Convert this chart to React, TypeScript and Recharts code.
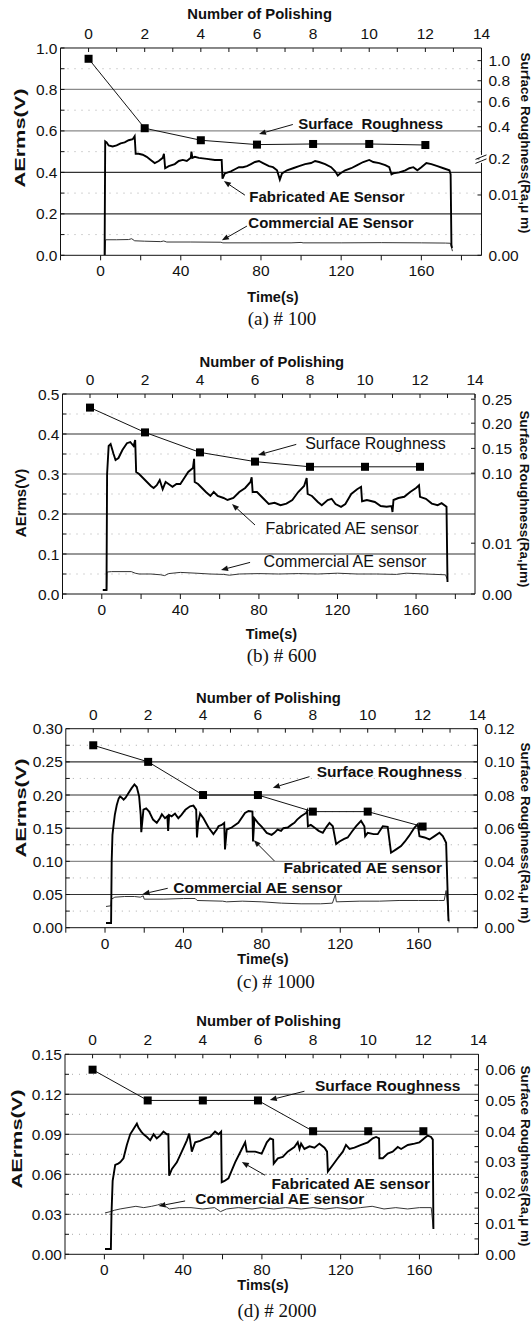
import { ComposedChart, Line, XAxis, YAxis, ReferenceLine, ReferenceDot } from "recharts";

type Pt = [number, number];

const FONT = '"Liberation Sans", Arial, Helvetica, sans-serif';
const SERIF = '"Liberation Serif", "Times New Roman", serif';

// shared axes
const timeTicks = [-20, 0, 20, 40, 60, 80, 100, 120, 140, 160, 180];
const timeLabels = [0, 40, 80, 120, 160];
const polishTicks = [0, 1, 2, 3, 4, 5, 6, 7, 8, 9, 10, 11, 12, 13, 14];
const polishLabels = [0, 2, 4, 6, 8, 10, 12, 14];
const polishing = [0, 2, 4, 6, 8, 10, 12];

// ---------- (a) # 100 ----------
const aFabricated: Pt[] = [
  [2.0, 0.0], [2.3, 0.55], [3, 0.545], [4, 0.53], [6, 0.525], [8, 0.53], [10, 0.54], [12, 0.545],
  [14, 0.555], [16, 0.56], [17, 0.575], [17.5, 0.49], [19, 0.49], [21, 0.485], [23, 0.475], [25, 0.46],
  [27, 0.445], [29, 0.455], [31, 0.47], [31.6, 0.49], [32.2, 0.42], [34, 0.43], [37, 0.44], [39, 0.455],
  [41, 0.46], [43, 0.455], [45, 0.47], [45.3, 0.5], [45.8, 0.47], [47, 0.475], [49, 0.47], [53, 0.465],
  [57, 0.46], [60.4, 0.46], [60.8, 0.37], [62, 0.395], [65, 0.405], [67, 0.415], [69, 0.425], [71, 0.425],
  [73, 0.43], [75, 0.44], [77, 0.45], [79, 0.455], [81, 0.445], [84, 0.43], [86, 0.425], [88, 0.41],
  [89.4, 0.365], [90.5, 0.395], [93, 0.41], [96, 0.42], [99, 0.43], [102, 0.44], [105, 0.445], [107, 0.455],
  [109, 0.45], [112, 0.44], [115, 0.425], [117, 0.405], [118.3, 0.385], [119.5, 0.395], [122, 0.41],
  [125, 0.42], [128, 0.435], [131, 0.45], [134, 0.46], [136, 0.45], [139, 0.445], [142, 0.435], [144, 0.425],
  [145.1, 0.39], [146, 0.395], [149, 0.4], [152, 0.41], [154, 0.42], [156, 0.425], [158, 0.41], [160, 0.425],
  [162.5, 0.445], [165, 0.44], [168, 0.43], [171, 0.42], [174, 0.41], [174.6, 0.39], [175, 0.05], [175.3, 0.035],
];
const aCommercial: Pt[] = [
  [2.2, 0], [2.5, 0.075], [8, 0.075], [14, 0.076], [15.5, 0.08], [17, 0.07], [22, 0.068], [30, 0.066],
  [31.5, 0.069], [33, 0.064], [45, 0.064], [60, 0.063], [61, 0.06], [80, 0.06], [95, 0.06], [100, 0.062],
  [101, 0.06], [120, 0.06], [140, 0.061], [160, 0.06], [172, 0.059], [174.5, 0.058], [175.5, 0.02],
];
// right axis is broken (log-like), so roughness is kept in the drawn axis units
const aRoughness = [0.948, 0.613, 0.555, 0.534, 0.537, 0.537, 0.532];
const aRightTickPos = [0, 0.291, 0.465, 0.62, 0.74, 0.842, 0.939];
const aRightTickLabels = ["0.00", "0.01", "0.2", "0.4", "0.6", "0.8", "1.0"];
const aLeftMajor = [0, 0.2, 0.4, 0.6, 0.8, 1.0];
const aLeftMinor = [0.1, 0.3, 0.5, 0.7, 0.9];

// ---------- (b) # 600 ----------
const bFabricated: Pt[] = [
  [0.5, 0.01], [2.4, 0.01], [2.7, 0.3], [3.5, 0.37], [4.5, 0.375], [6, 0.35], [7, 0.335], [8.5, 0.34],
  [10.5, 0.36], [12.8, 0.377], [14.5, 0.38], [16.2, 0.37], [17, 0.385], [17.5, 0.305], [19, 0.3], [21, 0.29],
  [23, 0.28], [25, 0.27], [26.4, 0.265], [28, 0.272], [29.5, 0.285], [31, 0.262], [32.5, 0.28], [34, 0.275],
  [36, 0.268], [38, 0.275], [40, 0.275], [42, 0.29], [44, 0.305], [46.4, 0.315], [47, 0.338], [47.3, 0.28],
  [49, 0.275], [51, 0.265], [53, 0.255], [55.3, 0.245], [57, 0.255], [59, 0.245], [62, 0.24], [64, 0.235],
  [67, 0.24], [70, 0.255], [73, 0.265], [75.7, 0.28], [76.3, 0.292], [76.8, 0.255], [79, 0.255], [82, 0.24],
  [85, 0.225], [88, 0.228], [91, 0.222], [94, 0.226], [97, 0.235], [100, 0.255], [103, 0.27], [104.3, 0.29],
  [104.8, 0.25], [107, 0.245], [110, 0.23], [112, 0.222], [115, 0.235], [117, 0.238], [119, 0.225],
  [121.8, 0.218], [124, 0.225], [127, 0.25], [130, 0.262], [132, 0.268], [132.5, 0.232], [135, 0.235],
  [139, 0.23], [142, 0.22], [145, 0.218], [147.5, 0.22], [148, 0.205], [148.5, 0.235], [151, 0.24],
  [154, 0.243], [157, 0.255], [160, 0.265], [161.5, 0.272], [162, 0.243], [165, 0.238], [168, 0.226],
  [171, 0.222], [173, 0.227], [175.5, 0.218], [176, 0.03],
];
const bCommercial: Pt[] = [
  [2.5, 0.01], [2.7, 0.055], [5, 0.056], [15, 0.056], [17, 0.052], [19, 0.05], [25, 0.05], [30, 0.048],
  [32, 0.046], [34, 0.051], [40, 0.054], [48, 0.052], [55, 0.05], [62, 0.049], [65, 0.047], [70, 0.05],
  [80, 0.051], [90, 0.05], [100, 0.051], [110, 0.05], [120, 0.052], [130, 0.05], [140, 0.05], [150, 0.049],
  [155, 0.052], [165, 0.05], [175, 0.048], [176, 0.035],
];
const bRoughness = [0.466, 0.404, 0.354, 0.331, 0.318, 0.318, 0.318];
const bRightTickPos = [0, 0.127, 0.302, 0.364, 0.427, 0.487];
const bRightTickLabels = ["0.00", "0.01", "0.10", "0.15", "0.20", "0.25"];
const bLeftMajor = [0, 0.1, 0.2, 0.3, 0.4, 0.5];
const bLeftMinor = [0.05, 0.15, 0.25, 0.35, 0.45];

// ---------- (c) # 1000 ----------
const cFabricated: Pt[] = [
  [0.5, 0.007], [3.1, 0.007], [3.4, 0.1], [3.8, 0.14], [4.3, 0.153], [5, 0.17], [6, 0.185], [7, 0.195],
  [7.7, 0.198], [8.5, 0.196], [9.5, 0.193], [10.5, 0.196], [12, 0.203], [13.5, 0.21], [15, 0.216],
  [16.2, 0.212], [17.4, 0.198], [18.2, 0.17], [18.5, 0.144], [19.6, 0.178], [21, 0.18], [22.5, 0.175],
  [24.5, 0.163], [26.4, 0.158], [28, 0.165], [29, 0.171], [30.6, 0.165], [31.8, 0.168], [32.2, 0.146],
  [32.7, 0.17], [34, 0.168], [35.7, 0.172], [37.4, 0.165], [39, 0.17], [41, 0.178], [43.4, 0.183],
  [45.1, 0.184], [46.5, 0.178], [46.9, 0.136], [47.5, 0.158], [48.5, 0.172], [50.2, 0.165], [52.8, 0.151],
  [55.3, 0.141], [57, 0.148], [57.9, 0.153], [59.5, 0.155], [60.8, 0.158], [61.2, 0.118], [62.1, 0.148],
  [64.6, 0.151], [68, 0.158], [71.4, 0.173], [73.2, 0.176], [75.2, 0.175], [75.5, 0.13], [76.2, 0.165],
  [78, 0.158], [80, 0.152], [82.5, 0.143], [85, 0.14], [86.4, 0.143], [88, 0.148], [89.8, 0.146], [91, 0.15],
  [93.2, 0.151], [95, 0.155], [96.6, 0.158], [98, 0.163], [100, 0.168], [102.6, 0.173], [103.1, 0.176],
  [103.5, 0.153], [105, 0.155], [106.8, 0.151], [109, 0.146], [111.1, 0.143], [113, 0.152], [114.5, 0.158],
  [116.2, 0.153], [117.9, 0.126], [119.6, 0.13], [122, 0.134], [123.8, 0.136], [126, 0.145], [128.1, 0.153],
  [130.6, 0.161], [132.3, 0.153], [132.7, 0.138], [134, 0.143], [137, 0.141], [139.1, 0.141], [141.7, 0.153],
  [144.2, 0.152], [145.9, 0.113], [148.5, 0.118], [151, 0.123], [153, 0.13], [155, 0.138], [157.9, 0.151],
  [159.5, 0.156], [160.4, 0.138], [163, 0.136], [165.5, 0.133], [168.1, 0.138], [170.6, 0.143],
  [172.3, 0.138], [174, 0.128], [174.8, 0.05], [175.2, 0.01],
];
const cCommercial: Pt[] = [
  [0.5, 0.032], [3.0, 0.033], [3.3, 0.043], [5, 0.046], [10, 0.047], [15, 0.047], [18, 0.046], [19.5, 0.048],
  [20, 0.043], [30, 0.043], [40, 0.044], [46, 0.044], [47, 0.041], [60, 0.04], [62, 0.039], [70, 0.04],
  [80, 0.039], [90, 0.037], [100, 0.036], [110, 0.036], [116, 0.037], [117.5, 0.05], [118, 0.039], [130, 0.04],
  [140, 0.04], [150, 0.041], [160, 0.041], [170, 0.041], [173, 0.041], [174, 0.056], [174.5, 0.04],
  [175, 0.02], [175.5, 0.008],
];
const cRoughness = [0.11, 0.1, 0.08, 0.08, 0.07, 0.07, 0.061];
const cRightMajor = [0, 0.02, 0.04, 0.06, 0.08, 0.1, 0.12];
const cRightMinor = [0.01, 0.03, 0.05, 0.07, 0.09, 0.11];
const cLeftMajor = [0, 0.05, 0.1, 0.15, 0.2, 0.25, 0.3];
const cLeftMinor = [0.025, 0.075, 0.125, 0.175, 0.225, 0.275];

// ---------- (d) # 2000 ----------
const dFabricated: Pt[] = [
  [0.3, 0.004], [3.3, 0.004], [3.6, 0.03], [4.2, 0.055], [5.5, 0.067], [7, 0.068], [8, 0.069], [9.7, 0.072],
  [11.4, 0.082], [13.1, 0.09], [14.8, 0.094], [16.5, 0.098], [17.3, 0.095], [18.7, 0.092], [19.9, 0.09],
  [21.6, 0.088], [23.3, 0.0855], [25, 0.09], [26.6, 0.087], [28.3, 0.089], [30, 0.092], [31.7, 0.09],
  [32.5, 0.09], [32.9, 0.059], [34.3, 0.064], [36.8, 0.069], [39.3, 0.077], [41.9, 0.0855], [43.1, 0.0905],
  [44.4, 0.077], [46.1, 0.084], [48.6, 0.085], [51.2, 0.087], [53.7, 0.088], [56.2, 0.092], [58, 0.09],
  [59.3, 0.092], [59.6, 0.054], [61, 0.055], [63, 0.057], [66.4, 0.069], [69.8, 0.079], [71.5, 0.084],
  [72.3, 0.077], [74, 0.077], [76.6, 0.077], [79.9, 0.0755], [82.5, 0.084], [84.2, 0.087], [85.7, 0.086],
  [86, 0.068], [88.1, 0.072], [90.6, 0.073], [93.1, 0.077], [96.5, 0.0805], [98.2, 0.084], [99.1, 0.079],
  [99.9, 0.083], [101.6, 0.079], [104.2, 0.081], [106.7, 0.08], [109.2, 0.083], [111.8, 0.08], [113.1, 0.077],
  [113.5, 0.062], [116, 0.067], [118.5, 0.072], [121.1, 0.077], [122.7, 0.082], [124.5, 0.079], [127, 0.08],
  [130.4, 0.082], [133.8, 0.084], [136.3, 0.087], [138, 0.088], [139.5, 0.087], [139.7, 0.072], [141.4, 0.072],
  [143.9, 0.0755], [146.4, 0.077], [149, 0.0805], [150.7, 0.079], [154.1, 0.082], [157.5, 0.083], [160, 0.084],
  [162.5, 0.087], [164.2, 0.089], [165.9, 0.088], [166.8, 0.086], [167.1, 0.019],
];
const dCommercial: Pt[] = [
  [0.3, 0.031], [3, 0.032], [5, 0.033], [8, 0.034], [12, 0.035], [16, 0.036], [20, 0.035], [24, 0.036],
  [27, 0.037], [29, 0.038], [31, 0.036], [33, 0.034], [38, 0.035], [44, 0.035], [50, 0.034], [56, 0.035],
  [59, 0.032], [62, 0.034], [68, 0.035], [75, 0.034], [80, 0.035], [86, 0.034], [92, 0.035], [100, 0.034],
  [106, 0.035], [112, 0.034], [118, 0.035], [124, 0.034], [130, 0.035], [136, 0.036], [142, 0.034],
  [148, 0.035], [154, 0.034], [160, 0.035], [166, 0.035], [167, 0.02],
];
const dRoughness = [0.06, 0.05, 0.05, 0.05, 0.04, 0.04, 0.04];
const dRightMajor = [0, 0.01, 0.02, 0.03, 0.04, 0.05, 0.06];
const dRightMinor = [0.005, 0.015, 0.025, 0.035, 0.045, 0.055];
const dLeftMajor = [0, 0.03, 0.06, 0.09, 0.12, 0.15];
const dLeftMinor = [0.015, 0.045, 0.075, 0.105, 0.135];

interface Note { text: string; t: number; v: number }
interface Arrow { t1: number; v1: number; t2: number; v2: number }
interface TextItem { text: string; x: number; y: number; size: number; bold?: boolean; rotate?: number; stretch?: number; serif?: boolean }

interface PanelCfg {
  top: number;
  plot: { l: number; r: number; t: number; b: number };
  yMax: number;
  yDec: number;
  leftMajor: number[];
  leftMinor: number[];
  gridDark: number[];
  gridGray: number[];
  gridDash: number[];
  fab: Pt[];
  com: Pt[];
  rough: number[];
  rightDomain: [number, number];
  rightTicks: number[];
  rightLabel: (v: number) => string;
  rightBreak?: number;
  notes: Note[];
  arrows: Arrow[];
  noteBold: boolean;
  noteSize: number;
}

const near = (list: number[], v: number) => list.some((m) => Math.abs(m - v) < 1e-9);

const panels: PanelCfg[] = [
  {
    top: 0,
    plot: { l: 60.5, r: 481.5, t: 48, b: 255.3 },
    yMax: 1, yDec: 1, leftMajor: aLeftMajor, leftMinor: aLeftMinor,
    gridDark: [0.2, 0.4], gridGray: [0.6, 0.8], gridDash: [],
    fab: aFabricated, com: aCommercial, rough: aRoughness,
    rightDomain: [0, 1], rightTicks: aRightTickPos,
    rightLabel: (v) => aRightTickLabels[aRightTickPos.findIndex((p) => Math.abs(p - v) < 1e-9)] ?? "",
    rightBreak: 0.465,
    notes: [
      { text: "Surface\u00a0\u00a0Roughness", t: 134.7, v: 0.636 },
      { text: "Fabricated AE Sensor", t: 112.9, v: 0.286 },
      { text: "Commercial AE Sensor", t: 114.9, v: 0.156 },
    ],
    arrows: [
      { t1: 95.9, v1: 0.631, t2: 79, v2: 0.585 },
      { t1: 72, v1: 0.29, t2: 61.5, v2: 0.358 },
      { t1: 73, v1: 0.141, t2: 60.5, v2: 0.072 },
    ],
    noteBold: true, noteSize: 15,
  },
  {
    top: 340,
    plot: { l: 62.5, r: 475, t: 394, b: 594 },
    yMax: 0.5, yDec: 1, leftMajor: bLeftMajor, leftMinor: bLeftMinor,
    gridDark: [0.1, 0.2, 0.4], gridGray: [0.3], gridDash: [],
    fab: bFabricated, com: bCommercial, rough: bRoughness,
    rightDomain: [0, 0.5], rightTicks: bRightTickPos,
    rightLabel: (v) => bRightTickLabels[bRightTickPos.findIndex((p) => Math.abs(p - v) < 1e-9)] ?? "",
    rightBreak: 0.2525,
    notes: [
      { text: "Surface Roughness", t: 139.3, v: 0.3775 },
      { text: "Fabricated AE sensor", t: 122.3, v: 0.164 },
      { text: "Commercial AE sensor", t: 123.8, v: 0.081 },
    ],
    arrows: [
      { t1: 99, v1: 0.374, t2: 79.6, v2: 0.3475 },
      { t1: 78, v1: 0.1725, t2: 66.3, v2: 0.225 },
      { t1: 75.5, v1: 0.079, t2: 60.7, v2: 0.06 },
    ],
    noteBold: false, noteSize: 16,
  },
  {
    top: 670,
    plot: { l: 65.8, r: 477.5, t: 728.7, b: 927.7 },
    yMax: 0.3, yDec: 2, leftMajor: cLeftMajor, leftMinor: cLeftMinor,
    gridDark: [0.05, 0.15, 0.2, 0.25], gridGray: [0.1], gridDash: [],
    fab: cFabricated, com: cCommercial, rough: cRoughness,
    rightDomain: [0, 0.12], rightTicks: [...cRightMajor, ...cRightMinor].sort((a, b) => a - b),
    rightLabel: (v) => (near(cRightMajor, v) ? v.toFixed(2) : ""),
    notes: [
      { text: "Surface Roughness", t: 145.1, v: 0.235 },
      { text: "Fabricated AE sensor", t: 131.5, v: 0.0905 },
      { text: "Commercial AE sensor", t: 77.9, v: 0.0603 },
    ],
    arrows: [
      { t1: 104.3, v1: 0.2277, t2: 85.6, v2: 0.211 },
      { t1: 86.4, v1: 0.1006, t2: 75.9, v2: 0.132 },
      { t1: 32, v1: 0.0594, t2: 19.2, v2: 0.0508 },
    ],
    noteBold: true, noteSize: 15.5,
  },
  {
    top: 1000,
    plot: { l: 65, r: 478.5, t: 1054.3, b: 1254.3 },
    yMax: 0.15, yDec: 2, leftMajor: dLeftMajor, leftMinor: dLeftMinor,
    gridDark: [0.12], gridGray: [0.09], gridDash: [0.03, 0.06],
    fab: dFabricated, com: dCommercial, rough: dRoughness,
    rightDomain: [0, 0.065], rightTicks: [...dRightMajor, ...dRightMinor].sort((a, b) => a - b),
    rightLabel: (v) => (near(dRightMajor, v) ? v.toFixed(2) : ""),
    notes: [
      { text: "Surface Roughness", t: 143.9, v: 0.1268 },
      { text: "Fabricated AE sensor", t: 125.1, v: 0.053 },
      { text: "Commercial AE sensor", t: 89.1, v: 0.0417 },
    ],
    arrows: [
      { t1: 101.6, v1: 0.1223, t2: 84, v2: 0.1157 },
      { t1: 81.6, v1: 0.0593, t2: 69.8, v2: 0.0692 },
      { t1: 41, v1: 0.04, t2: 27.5, v2: 0.0362 },
    ],
    noteBold: true, noteSize: 15.5,
  },
];

const texts: TextItem[] = [
  { text: "Number of Polishing", x: 259.6, y: 14, size: 14.8, bold: true },
  { text: "AErms(V)", x: 18.7, y: 137.5, size: 15, bold: true, rotate: -90, stretch: 1.45 },
  { text: "Surface Roughness(Ra,\u03bc m)", x: 525, y: 142.5, size: 13.5, bold: true, rotate: 90 },
  { text: "Time(s)", x: 273, y: 297.3, size: 14.5, bold: true },
  { text: "(a) # 100", x: 282, y: 318.3, size: 19, serif: true },

  { text: "Number of Polishing", x: 271.8, y: 361.7, size: 14.8, bold: true },
  { text: "AErms(V)", x: 19.7, y: 502.5, size: 15, bold: true, rotate: -90 },
  { text: "Surface Roughness(Ra,\u03bcm)", x: 524, y: 499, size: 13.5, bold: true, rotate: 90 },
  { text: "Time(s)", x: 271.4, y: 634, size: 14.5, bold: true },
  { text: "(b) # 600", x: 281.6, y: 655, size: 19, serif: true },

  { text: "Number of Polishing", x: 268.4, y: 698.3, size: 14.8, bold: true },
  { text: "AErms(V)", x: 20, y: 807.5, size: 15, bold: true, rotate: -90, stretch: 1.45 },
  { text: "Surface Roughness(Ra,\u03bc m)", x: 525, y: 833, size: 13.5, bold: true, rotate: 90 },
  { text: "Time(s)", x: 263, y: 959, size: 14.5, bold: true },
  { text: "(c) # 1000", x: 275.7, y: 981, size: 19, serif: true },

  { text: "Number of Polishing", x: 268.6, y: 1020.7, size: 14.8, bold: true },
  { text: "AErms(V)", x: 16, y: 1139, size: 15, bold: true, rotate: -90, stretch: 1.45 },
  { text: "Surface Roughness(Ra,\u03bc m)", x: 525, y: 1156, size: 13.5, bold: true, rotate: 90 },
  { text: "Tims(s)", x: 263, y: 1285, size: 14.5, bold: true },
  { text: "(d) # 2000", x: 277, y: 1310, size: 19, serif: true },
];

const tickStyle = { fontSize: 15.5, fill: "#111", fontFamily: FONT };

function ArrowShape(props: any) {
  const { x1, y1, x2, y2 } = props;
  const ang = Math.atan2(y2 - y1, x2 - x1);
  const L = 7;
  const W = 2.8;
  const bx = x2 - L * Math.cos(ang);
  const by = y2 - L * Math.sin(ang);
  const pts = `${x2},${y2} ${bx - W * Math.sin(ang)},${by + W * Math.cos(ang)} ${bx + W * Math.sin(ang)},${by - W * Math.cos(ang)}`;
  return (
    <g>
      <line x1={x1} y1={y1} x2={bx} y2={by} stroke="#111" strokeWidth={1} />
      <polygon points={pts} fill="#111" />
    </g>
  );
}

function Panel({ cfg }: { cfg: PanelCfg }) {
  const leftW = 48;
  const rightW = 52;
  const topH = 24;
  const bottomH = 30;
  const { plot, top } = cfg;
  const height = plot.b - top + bottomH;
  const margin = { left: plot.l - leftW, right: 532 - plot.r - rightW, top: plot.t - top - topH, bottom: 0 };

  const fabData = cfg.fab.map(([t, v]) => ({ t, v }));
  const comData = cfg.com.map(([t, v]) => ({ t, v }));
  const roughData = polishing.map((p, i) => ({ p, r: cfg.rough[i] }));
  const leftTicks = [...cfg.leftMajor, ...cfg.leftMinor].sort((a, b) => a - b);

  const rightTick = (props: any) => {
    const { x, y, payload } = props;
    const label = cfg.rightLabel(payload.value);
    const axisX = x - 7;
    const isBreak = cfg.rightBreak !== undefined && Math.abs(payload.value - cfg.rightBreak) < 1e-9;
    return (
      <g>
        {isBreak && (
          <g>
            <rect x={axisX - 2} y={y - 4} width={4} height={8} fill="#fff" />
            <line x1={axisX - 6} y1={y + 0.5} x2={axisX + 5} y2={y - 4} stroke="#111" strokeWidth={1} />
            <line x1={axisX - 6} y1={y + 4.5} x2={axisX + 5} y2={y} stroke="#111" strokeWidth={1} />
          </g>
        )}
        <text x={x} y={y} dominantBaseline="central" textAnchor="start" fontSize={15.5} fill="#111" fontFamily={FONT}>
          {label}
        </text>
      </g>
    );
  };

  const squareDot = (props: any) => (
    <rect key={`sq-${props.index}`} x={props.cx - 4} y={props.cy - 4} width={8} height={8} fill="#000" />
  );

  return (
    <div style={{ position: "absolute", left: 0, top, width: 532, height }}>
      <ComposedChart width={532} height={height} margin={margin}>
        <XAxis
          xAxisId="bottom"
          type="number"
          dataKey="t"
          domain={[-20, 190]}
          allowDataOverflow
          ticks={timeTicks}
          interval={0}
          tickFormatter={(v) => (near(timeLabels, v) ? String(v) : "")}
          height={bottomH}
          tickSize={5}
          tickMargin={5}
          tick={tickStyle}
          stroke="#111"
        />
        <XAxis
          xAxisId="top"
          orientation="top"
          type="number"
          dataKey="p"
          domain={[-1, 14]}
          allowDataOverflow
          ticks={polishTicks}
          interval={0}
          tickFormatter={(v) => (near(polishLabels, v) ? String(v) : "")}
          height={topH}
          tickSize={-4}
          tickMargin={13}
          tick={tickStyle}
          stroke="#111"
        />
        <YAxis
          yAxisId="left"
          type="number"
          domain={[0, cfg.yMax]}
          allowDataOverflow
          ticks={leftTicks}
          interval={0}
          tickFormatter={(v) => (near(cfg.leftMajor, v) ? v.toFixed(cfg.yDec) : "")}
          width={leftW}
          tickSize={-4}
          tickMargin={7}
          tick={tickStyle}
          stroke="#111"
        />
        <YAxis
          yAxisId="right"
          orientation="right"
          type="number"
          domain={cfg.rightDomain}
          allowDataOverflow
          ticks={cfg.rightTicks}
          interval={0}
          tickFormatter={(v) => cfg.rightLabel(v)}
          width={rightW}
          tickSize={-4}
          tickMargin={11}
          tick={rightTick}
          stroke="#111"
        />

        {cfg.leftMinor.map((g) => (
          <ReferenceLine key={`dot-${g}`} xAxisId="bottom" yAxisId="left" y={g} stroke="#aaa" strokeDasharray="1 6" />
        ))}
        {cfg.gridDash.map((g) => (
          <ReferenceLine key={`dash-${g}`} xAxisId="bottom" yAxisId="left" y={g} stroke="#777" strokeDasharray="2 2" />
        ))}
        {cfg.gridGray.map((g) => (
          <ReferenceLine key={`gray-${g}`} xAxisId="bottom" yAxisId="left" y={g} stroke="#8a8a8a" strokeWidth={1.2} />
        ))}
        {cfg.gridDark.map((g) => (
          <ReferenceLine key={`dark-${g}`} xAxisId="bottom" yAxisId="left" y={g} stroke="#333" strokeWidth={1.1} />
        ))}

        <Line
          xAxisId="bottom"
          yAxisId="left"
          data={comData}
          dataKey="v"
          type="linear"
          stroke="#333"
          strokeWidth={1}
          dot={false}
          activeDot={false}
          isAnimationActive={false}
        />
        <Line
          xAxisId="bottom"
          yAxisId="left"
          data={fabData}
          dataKey="v"
          type="linear"
          stroke="#000"
          strokeWidth={1.9}
          dot={false}
          activeDot={false}
          isAnimationActive={false}
        />
        <Line
          xAxisId="top"
          yAxisId="right"
          data={roughData}
          dataKey="r"
          type="linear"
          stroke="#111"
          strokeWidth={1}
          dot={squareDot}
          activeDot={false}
          isAnimationActive={false}
        />

        {cfg.arrows.map((a, i) => (
          <ReferenceLine
            key={`arr-${i}`}
            xAxisId="bottom"
            yAxisId="left"
            segment={[{ x: a.t1, y: a.v1 }, { x: a.t2, y: a.v2 }]}
            shape={ArrowShape}
            ifOverflow="visible"
          />
        ))}
        {cfg.notes.map((n, i) => (
          <ReferenceDot
            key={`note-${i}`}
            xAxisId="bottom"
            yAxisId="left"
            x={n.t}
            y={n.v}
            ifOverflow="visible"
            shape={(p: any) => (
              <text
                x={p.cx}
                y={p.cy}
                textAnchor="middle"
                dominantBaseline="central"
                fontSize={cfg.noteSize}
                fontWeight={cfg.noteBold ? 700 : 400}
                fontFamily={FONT}
                fill="#111"
              >
                {n.text}
              </text>
            )}
          />
        ))}
      </ComposedChart>
    </div>
  );
}

function Txt({ item }: { item: TextItem }) {
  return (
    <div
      style={{
        position: "absolute",
        left: item.x,
        top: item.y,
        transform: `translate(-50%, -50%) rotate(${item.rotate ?? 0}deg) scaleX(${item.stretch ?? 1})`,
        whiteSpace: "nowrap",
        fontSize: item.size,
        fontWeight: item.bold ? 700 : 400,
        fontFamily: item.serif ? SERIF : FONT,
        lineHeight: 1,
        color: "#111",
      }}
    >
      {item.text}
    </div>
  );
}

export default function App() {
  return (
    <div style={{ position: "relative", width: 532, height: 1322, background: "#fff", overflow: "hidden" }}>
      <style>{"body{margin:0;background:#fff;}"}</style>
      {panels.map((cfg, i) => (
        <Panel key={i} cfg={cfg} />
      ))}
      {texts.map((item, i) => (
        <Txt key={i} item={item} />
      ))}
    </div>
  );
}
